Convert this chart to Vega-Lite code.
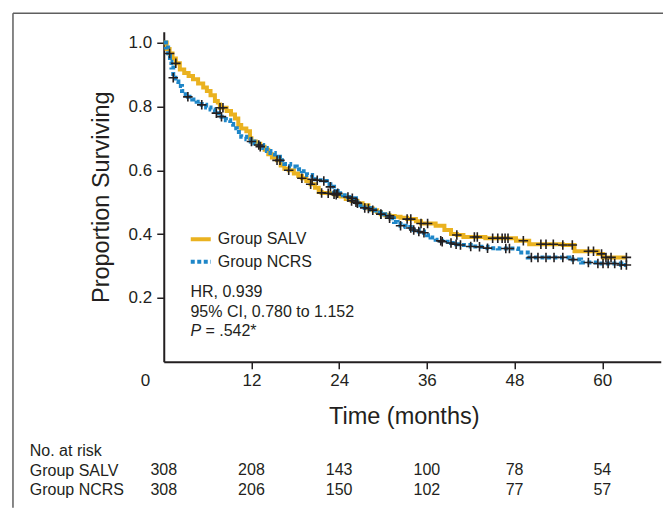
{
  "$schema": "https://vega.github.io/schema/vega-lite/v6.json",
  "padding": {"left": 11.75, "top": 11.75, "right": 0, "bottom": 0},
  "background": "white",
  "bounds": "flush",
  "spacing": 79,
  "config": {
    "view": {"stroke": null},
    "font": "Liberation Sans",
    "axis": {"labelFont": "Liberation Sans", "titleFont": "Liberation Sans", "labelColor": "#231F20", "titleColor": "#231F20", "domainColor": "#231F20", "tickColor": "#231F20", "grid": false, "titleFontWeight": "normal"},
    "legend": {"labelFont": "Liberation Sans"}
  },
  "datasets": {
    "km": [
      {"g":"Group SALV","t":0,"s":1,"c":0},{"g":"Group SALV","t":0.4,"s":0.98,"c":0},{"g":"Group SALV","t":0.8,"s":0.966,"c":1},{"g":"Group SALV","t":1.2,"s":0.95,"c":0},{"g":"Group SALV","t":1.65,"s":0.935,"c":1},{"g":"Group SALV","t":2.2,"s":0.916,"c":0},{"g":"Group SALV","t":2.8,"s":0.905,"c":0},{"g":"Group SALV","t":3.4,"s":0.895,"c":0},{"g":"Group SALV","t":4.0,"s":0.885,"c":0},{"g":"Group SALV","t":4.7,"s":0.872,"c":0},{"g":"Group SALV","t":5.4,"s":0.859,"c":0},{"g":"Group SALV","t":5.9,"s":0.848,"c":0},{"g":"Group SALV","t":6.4,"s":0.835,"c":0},{"g":"Group SALV","t":7.0,"s":0.817,"c":0},{"g":"Group SALV","t":7.4,"s":0.806,"c":0},{"g":"Group SALV","t":7.7,"s":0.796,"c":1},{"g":"Group SALV","t":8.1,"s":0.796,"c":1},{"g":"Group SALV","t":8.6,"s":0.786,"c":0},{"g":"Group SALV","t":9.2,"s":0.775,"c":0},{"g":"Group SALV","t":9.75,"s":0.762,"c":0},{"g":"Group SALV","t":10.2,"s":0.742,"c":0},{"g":"Group SALV","t":10.6,"s":0.731,"c":0},{"g":"Group SALV","t":11.3,"s":0.722,"c":0},{"g":"Group SALV","t":11.8,"s":0.7,"c":0},{"g":"Group SALV","t":12.0,"s":0.69,"c":1},{"g":"Group SALV","t":12.6,"s":0.683,"c":0},{"g":"Group SALV","t":13.2,"s":0.674,"c":1},{"g":"Group SALV","t":13.8,"s":0.664,"c":0},{"g":"Group SALV","t":14.3,"s":0.65,"c":0},{"g":"Group SALV","t":14.8,"s":0.64,"c":0},{"g":"Group SALV","t":15.5,"s":0.631,"c":1},{"g":"Group SALV","t":16.0,"s":0.615,"c":0},{"g":"Group SALV","t":16.5,"s":0.605,"c":0},{"g":"Group SALV","t":17.1,"s":0.6,"c":1},{"g":"Group SALV","t":17.8,"s":0.59,"c":0},{"g":"Group SALV","t":18.4,"s":0.582,"c":0},{"g":"Group SALV","t":18.9,"s":0.575,"c":1},{"g":"Group SALV","t":19.5,"s":0.566,"c":0},{"g":"Group SALV","t":20.1,"s":0.556,"c":1},{"g":"Group SALV","t":20.7,"s":0.545,"c":0},{"g":"Group SALV","t":21.2,"s":0.532,"c":0},{"g":"Group SALV","t":21.6,"s":0.529,"c":1},{"g":"Group SALV","t":22.5,"s":0.528,"c":1},{"g":"Group SALV","t":23.3,"s":0.525,"c":1},{"g":"Group SALV","t":23.6,"s":0.523,"c":1},{"g":"Group SALV","t":24.2,"s":0.518,"c":0},{"g":"Group SALV","t":24.9,"s":0.51,"c":0},{"g":"Group SALV","t":25.7,"s":0.504,"c":1},{"g":"Group SALV","t":26.5,"s":0.497,"c":1},{"g":"Group SALV","t":27.2,"s":0.49,"c":0},{"g":"Group SALV","t":28.0,"s":0.48,"c":1},{"g":"Group SALV","t":28.6,"s":0.475,"c":1},{"g":"Group SALV","t":29.2,"s":0.469,"c":0},{"g":"Group SALV","t":29.7,"s":0.462,"c":1},{"g":"Group SALV","t":30.3,"s":0.459,"c":0},{"g":"Group SALV","t":30.9,"s":0.457,"c":1},{"g":"Group SALV","t":31.6,"s":0.454,"c":0},{"g":"Group SALV","t":32.4,"s":0.451,"c":0},{"g":"Group SALV","t":33.3,"s":0.447,"c":1},{"g":"Group SALV","t":33.8,"s":0.447,"c":1},{"g":"Group SALV","t":34.5,"s":0.44,"c":0},{"g":"Group SALV","t":35.2,"s":0.433,"c":1},{"g":"Group SALV","t":36.1,"s":0.433,"c":1},{"g":"Group SALV","t":37.2,"s":0.426,"c":0},{"g":"Group SALV","t":38.4,"s":0.413,"c":0},{"g":"Group SALV","t":39.3,"s":0.4,"c":0},{"g":"Group SALV","t":40.1,"s":0.397,"c":1},{"g":"Group SALV","t":41.0,"s":0.391,"c":0},{"g":"Group SALV","t":42.5,"s":0.391,"c":1},{"g":"Group SALV","t":42.9,"s":0.391,"c":1},{"g":"Group SALV","t":44.0,"s":0.387,"c":0},{"g":"Group SALV","t":45.0,"s":0.387,"c":1},{"g":"Group SALV","t":45.7,"s":0.387,"c":1},{"g":"Group SALV","t":46.3,"s":0.387,"c":1},{"g":"Group SALV","t":46.7,"s":0.387,"c":1},{"g":"Group SALV","t":47.1,"s":0.387,"c":1},{"g":"Group SALV","t":48.2,"s":0.379,"c":0},{"g":"Group SALV","t":49.2,"s":0.379,"c":1},{"g":"Group SALV","t":50.0,"s":0.368,"c":0},{"g":"Group SALV","t":51.6,"s":0.368,"c":1},{"g":"Group SALV","t":52.3,"s":0.368,"c":1},{"g":"Group SALV","t":53.3,"s":0.368,"c":1},{"g":"Group SALV","t":54.6,"s":0.366,"c":1},{"g":"Group SALV","t":55.9,"s":0.366,"c":1},{"g":"Group SALV","t":56.2,"s":0.346,"c":0},{"g":"Group SALV","t":58.1,"s":0.346,"c":1},{"g":"Group SALV","t":58.8,"s":0.346,"c":1},{"g":"Group SALV","t":59.4,"s":0.338,"c":0},{"g":"Group SALV","t":59.9,"s":0.338,"c":1},{"g":"Group SALV","t":60.1,"s":0.327,"c":0},{"g":"Group SALV","t":60.5,"s":0.327,"c":1},{"g":"Group SALV","t":61.2,"s":0.327,"c":1},{"g":"Group SALV","t":63.3,"s":0.327,"c":1},
      {"g":"Group NCRS","t":0,"s":1,"c":0},{"g":"Group NCRS","t":0.3,"s":0.985,"c":0},{"g":"Group NCRS","t":0.6,"s":0.958,"c":0},{"g":"Group NCRS","t":0.85,"s":0.94,"c":0},{"g":"Group NCRS","t":1.05,"s":0.922,"c":0},{"g":"Group NCRS","t":1.3,"s":0.89,"c":1},{"g":"Group NCRS","t":1.6,"s":0.878,"c":0},{"g":"Group NCRS","t":2.0,"s":0.864,"c":0},{"g":"Group NCRS","t":2.5,"s":0.848,"c":0},{"g":"Group NCRS","t":3.0,"s":0.836,"c":0},{"g":"Group NCRS","t":3.3,"s":0.83,"c":1},{"g":"Group NCRS","t":3.9,"s":0.822,"c":0},{"g":"Group NCRS","t":4.5,"s":0.815,"c":0},{"g":"Group NCRS","t":5.2,"s":0.805,"c":1},{"g":"Group NCRS","t":5.8,"s":0.797,"c":0},{"g":"Group NCRS","t":6.4,"s":0.79,"c":0},{"g":"Group NCRS","t":7.0,"s":0.783,"c":0},{"g":"Group NCRS","t":7.2,"s":0.779,"c":1},{"g":"Group NCRS","t":7.9,"s":0.768,"c":1},{"g":"Group NCRS","t":8.5,"s":0.757,"c":0},{"g":"Group NCRS","t":9.1,"s":0.745,"c":0},{"g":"Group NCRS","t":9.5,"s":0.732,"c":0},{"g":"Group NCRS","t":10.0,"s":0.72,"c":0},{"g":"Group NCRS","t":10.6,"s":0.705,"c":0},{"g":"Group NCRS","t":11.3,"s":0.697,"c":0},{"g":"Group NCRS","t":11.9,"s":0.69,"c":0},{"g":"Group NCRS","t":12.4,"s":0.684,"c":0},{"g":"Group NCRS","t":13.0,"s":0.679,"c":1},{"g":"Group NCRS","t":13.6,"s":0.67,"c":0},{"g":"Group NCRS","t":14.1,"s":0.66,"c":0},{"g":"Group NCRS","t":14.6,"s":0.654,"c":0},{"g":"Group NCRS","t":15.2,"s":0.642,"c":0},{"g":"Group NCRS","t":15.9,"s":0.631,"c":1},{"g":"Group NCRS","t":16.5,"s":0.62,"c":0},{"g":"Group NCRS","t":17.3,"s":0.612,"c":0},{"g":"Group NCRS","t":18.2,"s":0.603,"c":0},{"g":"Group NCRS","t":18.9,"s":0.597,"c":0},{"g":"Group NCRS","t":19.6,"s":0.585,"c":0},{"g":"Group NCRS","t":20.3,"s":0.572,"c":1},{"g":"Group NCRS","t":21.0,"s":0.569,"c":1},{"g":"Group NCRS","t":21.9,"s":0.566,"c":1},{"g":"Group NCRS","t":22.3,"s":0.556,"c":0},{"g":"Group NCRS","t":22.8,"s":0.548,"c":1},{"g":"Group NCRS","t":23.3,"s":0.535,"c":0},{"g":"Group NCRS","t":23.8,"s":0.528,"c":1},{"g":"Group NCRS","t":24.5,"s":0.522,"c":0},{"g":"Group NCRS","t":25.2,"s":0.516,"c":1},{"g":"Group NCRS","t":25.8,"s":0.512,"c":1},{"g":"Group NCRS","t":26.3,"s":0.5,"c":1},{"g":"Group NCRS","t":26.9,"s":0.49,"c":0},{"g":"Group NCRS","t":27.5,"s":0.482,"c":1},{"g":"Group NCRS","t":28.2,"s":0.476,"c":0},{"g":"Group NCRS","t":28.9,"s":0.468,"c":0},{"g":"Group NCRS","t":29.7,"s":0.462,"c":1},{"g":"Group NCRS","t":30.3,"s":0.455,"c":0},{"g":"Group NCRS","t":30.9,"s":0.45,"c":1},{"g":"Group NCRS","t":31.5,"s":0.438,"c":0},{"g":"Group NCRS","t":32.0,"s":0.432,"c":0},{"g":"Group NCRS","t":32.4,"s":0.426,"c":1},{"g":"Group NCRS","t":33.1,"s":0.422,"c":0},{"g":"Group NCRS","t":33.8,"s":0.419,"c":1},{"g":"Group NCRS","t":34.2,"s":0.413,"c":1},{"g":"Group NCRS","t":34.9,"s":0.408,"c":1},{"g":"Group NCRS","t":35.6,"s":0.404,"c":1},{"g":"Group NCRS","t":36.0,"s":0.396,"c":0},{"g":"Group NCRS","t":36.5,"s":0.389,"c":0},{"g":"Group NCRS","t":37.2,"s":0.382,"c":0},{"g":"Group NCRS","t":37.9,"s":0.379,"c":1},{"g":"Group NCRS","t":38.1,"s":0.376,"c":1},{"g":"Group NCRS","t":39.3,"s":0.372,"c":1},{"g":"Group NCRS","t":40.0,"s":0.368,"c":1},{"g":"Group NCRS","t":40.6,"s":0.366,"c":1},{"g":"Group NCRS","t":42.0,"s":0.361,"c":1},{"g":"Group NCRS","t":43.2,"s":0.36,"c":1},{"g":"Group NCRS","t":44.3,"s":0.356,"c":1},{"g":"Group NCRS","t":45.7,"s":0.355,"c":0},{"g":"Group NCRS","t":46.8,"s":0.355,"c":1},{"g":"Group NCRS","t":47.3,"s":0.355,"c":1},{"g":"Group NCRS","t":48.5,"s":0.342,"c":0},{"g":"Group NCRS","t":49.8,"s":0.327,"c":0},{"g":"Group NCRS","t":50.3,"s":0.327,"c":1},{"g":"Group NCRS","t":51.2,"s":0.327,"c":1},{"g":"Group NCRS","t":52.3,"s":0.327,"c":1},{"g":"Group NCRS","t":53.4,"s":0.327,"c":1},{"g":"Group NCRS","t":54.6,"s":0.327,"c":1},{"g":"Group NCRS","t":55.5,"s":0.32,"c":0},{"g":"Group NCRS","t":56.0,"s":0.32,"c":1},{"g":"Group NCRS","t":57.1,"s":0.311,"c":0},{"g":"Group NCRS","t":58.1,"s":0.311,"c":1},{"g":"Group NCRS","t":59.4,"s":0.308,"c":1},{"g":"Group NCRS","t":60.1,"s":0.308,"c":1},{"g":"Group NCRS","t":60.8,"s":0.308,"c":1},{"g":"Group NCRS","t":61.7,"s":0.308,"c":1},{"g":"Group NCRS","t":62.6,"s":0.303,"c":1},{"g":"Group NCRS","t":63.3,"s":0.303,"c":1}
    ],
    "risk": [
      {"g":"Group SALV","t":0,"n":"308"},{"g":"Group SALV","t":12,"n":"208"},{"g":"Group SALV","t":24,"n":"143"},{"g":"Group SALV","t":36,"n":"100"},{"g":"Group SALV","t":48,"n":"78"},{"g":"Group SALV","t":60,"n":"54"},
      {"g":"Group NCRS","t":0,"n":"308"},{"g":"Group NCRS","t":12,"n":"206"},{"g":"Group NCRS","t":24,"n":"150"},{"g":"Group NCRS","t":36,"n":"102"},{"g":"Group NCRS","t":48,"n":"77"},{"g":"Group NCRS","t":60,"n":"57"}
    ],
    "one": [{}]
  },
  "vconcat": [
    {
      "width": 497,
      "height": 330,
      "layer": [
        {
          "data": {"name": "one"},
          "mark": {"type": "rule", "color": "#5f5f5f", "strokeWidth": 1.5},
          "encoding": {
            "x": {"datum": -20.63, "type": "quantitative", "scale": {"domain": [0, 68], "nice": false}},
            "y": {"datum": 1.092, "type": "quantitative", "scale": {"domain": [0, 1.034], "nice": false}},
            "y2": {"datum": -0.4575}
          }
        },
        {
          "data": {"name": "one"},
          "mark": {"type": "rule", "color": "#5f5f5f", "strokeWidth": 1.5},
          "encoding": {
            "x": {"datum": -20.63, "type": "quantitative", "scale": {"domain": [0, 68], "nice": false}},
            "x2": {"datum": 68.37},
            "y": {"datum": 1.092, "type": "quantitative", "scale": {"domain": [0, 1.034], "nice": false}}
          }
        },
        {
          "data": {"name": "km"},
          "mark": {"type": "line", "interpolate": "step-after", "strokeWidth": 4},
          "encoding": {
            "x": {
              "field": "t", "type": "quantitative",
              "scale": {"domain": [0, 68], "nice": false},
              "axis": {
                "title": "Time (months)",
                "values": [0, 12, 24, 36, 48, 60],
                "tickSize": 7, "tickWidth": 1.5, "domainWidth": 2,
                "labelFontSize": 17, "labelPadding": 4,
                "titleFontSize": 23.5, "titlePadding": 16, "titleX": 240,
                "labelOffset": {"condition": {"test": "datum.value === 0", "value": -18.7}, "value": 0},
                "tickOpacity": {"condition": {"test": "datum.value === 0", "value": 0}, "value": 1},
                "labelFlush": false, "labelOverlap": false
              }
            },
            "y": {
              "field": "s", "type": "quantitative",
              "scale": {"domain": [0, 1.034], "nice": false},
              "axis": {
                "title": "Proportion Surviving",
                "values": [0.2, 0.4, 0.6, 0.8, 1.0], "format": ".1f",
                "tickSize": 7, "tickWidth": 1.5, "domainWidth": 2,
                "labelFontSize": 17, "labelPadding": 5,
                "titleFontSize": 23.5, "titlePadding": 15,
                "labelOverlap": false, "labelFlush": false
              }
            },
            "color": {
              "field": "g", "type": "nominal",
              "scale": {"domain": ["Group SALV", "Group NCRS"], "range": ["#EAB220", "#1E86C8"]},
              "legend": {"title": null, "orient": "none", "legendX": 25, "legendY": 195.5, "symbolType": "stroke", "symbolStrokeWidth": 4, "symbolSize": 400, "labelFontSize": 16, "labelColor": "#231F20", "labelOffset": 5, "rowPadding": 2.4, "padding": 0}
            },
            "strokeDash": {
              "field": "g", "type": "nominal",
              "scale": {"domain": ["Group SALV", "Group NCRS"], "range": [[1, 0], [4, 2.5]]},
              "legend": {"title": null, "orient": "none", "legendX": 25, "legendY": 195.5, "symbolType": "stroke", "symbolStrokeWidth": 4, "symbolSize": 400, "labelFontSize": 16, "labelColor": "#231F20", "labelOffset": 5, "rowPadding": 2.4, "padding": 0}
            }
          }
        },
        {
          "data": {"name": "km"},
          "transform": [{"filter": "datum.c == 1"}],
          "mark": {"type": "point", "shape": "M-1,0H1M0,-1V1", "filled": false, "color": "#231F20", "strokeWidth": 1.6, "size": 90, "opacity": 1},
          "encoding": {
            "x": {"field": "t", "type": "quantitative", "scale": {"domain": [0, 68], "nice": false}},
            "y": {"field": "s", "type": "quantitative", "scale": {"domain": [0, 1.034], "nice": false}}
          }
        },
        {
          "data": {"name": "one"},
          "mark": {"type": "text", "align": "left", "baseline": "middle", "fontSize": 16, "color": "#231F20", "font": "Liberation Sans"},
          "encoding": {
            "x": {"datum": 3.65, "type": "quantitative", "scale": {"domain": [0, 68], "nice": false}},
            "y": {"datum": 0.219, "type": "quantitative", "scale": {"domain": [0, 1.034], "nice": false}},
            "text": {"value": "HR, 0.939"}
          }
        },
        {
          "data": {"name": "one"},
          "mark": {"type": "text", "align": "left", "baseline": "middle", "fontSize": 16, "color": "#231F20", "font": "Liberation Sans"},
          "encoding": {
            "x": {"datum": 3.65, "type": "quantitative", "scale": {"domain": [0, 68], "nice": false}},
            "y": {"datum": 0.156, "type": "quantitative", "scale": {"domain": [0, 1.034], "nice": false}},
            "text": {"value": "95% CI, 0.780 to 1.152"}
          }
        },
        {
          "data": {"name": "one"},
          "mark": {"type": "text", "align": "left", "baseline": "middle", "fontSize": 16, "fontStyle": "italic", "color": "#231F20", "font": "Liberation Sans"},
          "encoding": {
            "x": {"datum": 3.65, "type": "quantitative", "scale": {"domain": [0, 68], "nice": false}},
            "y": {"datum": 0.096, "type": "quantitative", "scale": {"domain": [0, 1.034], "nice": false}},
            "text": {"value": "P"}
          }
        },
        {
          "data": {"name": "one"},
          "mark": {"type": "text", "align": "left", "baseline": "middle", "fontSize": 16, "color": "#231F20", "font": "Liberation Sans"},
          "encoding": {
            "x": {"datum": 5.7, "type": "quantitative", "scale": {"domain": [0, 68], "nice": false}},
            "y": {"datum": 0.096, "type": "quantitative", "scale": {"domain": [0, 1.034], "nice": false}},
            "text": {"value": "= .542*"}
          }
        }
      ]
    },
    {
      "width": 497,
      "height": 58.5,
      "data": {"name": "risk"},
      "mark": {"type": "text", "align": "center", "baseline": "middle", "fontSize": 16, "color": "#231F20", "font": "Liberation Sans"},
      "encoding": {
        "x": {"field": "t", "type": "quantitative", "scale": {"domain": [0, 68], "nice": false}, "axis": null},
        "y": {
          "field": "g", "type": "nominal",
          "scale": {"domain": ["No. at risk", "Group SALV", "Group NCRS"]},
          "axis": {"title": null, "domain": false, "ticks": false, "tickSize": 0, "labelAlign": "left", "labelPadding": 134.5, "labelFontSize": 16, "labelColor": "#231F20", "labelBaseline": "middle"}
        },
        "text": {"field": "n", "type": "nominal"}
      }
    }
  ]
}
